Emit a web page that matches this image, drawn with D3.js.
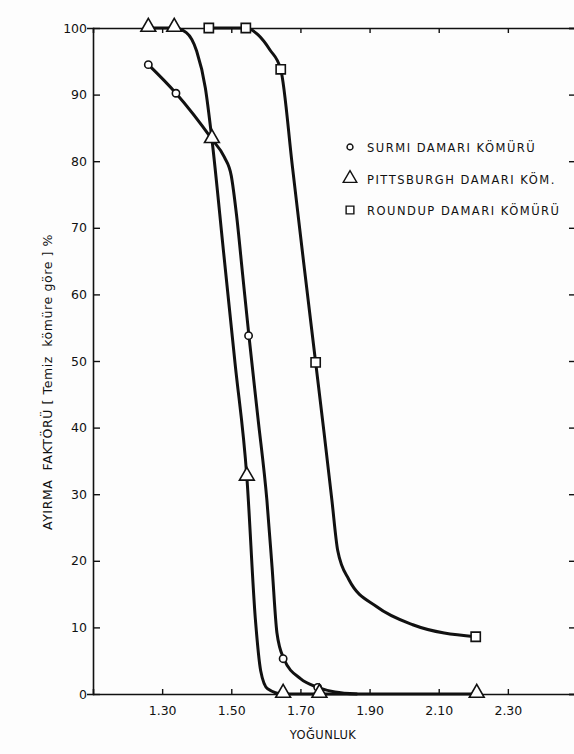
<!DOCTYPE html>
<html>
<head>
<meta charset="utf-8">
<script src="https://cdn.jsdelivr.net/npm/d3@7"></script>
<style>
  html, body { margin: 0; padding: 0; background: #fdfdfd; }
  svg { display: block; font-family: "DejaVu Sans", sans-serif; }
</style>
</head>
<body>
<svg id="chart" width="574" height="754"></svg>
<script>
// Axis ticks
const xTicks = [1.30, 1.50, 1.70, 1.90, 2.10, 2.30];
const yTicks = [0, 10, 20, 30, 40, 50, 60, 70, 80, 90, 100];

// Measured points (markers) per coal seam: [density, separation factor %]
const surmiPoints = [[1.26, 94.5], [1.34, 90.2], [1.55, 53.8], [1.65, 5.3], [1.75, 1.0]];
const pittsburghPoints = [[1.26, 100], [1.335, 100], [1.444, 83.3], [1.545, 32.6], [1.65, 0], [1.755, 0], [2.21, 0]];
const roundupPoints = [[1.435, 100], [1.542, 100], [1.643, 93.8], [1.744, 49.8], [2.207, 8.6]];

// Hand-faired curves through the measured points
const surmiCurve = [[1.26, 94.5], [1.34, 90.2], [1.444, 83.3], [1.480, 80.6], [1.500, 77.8], [1.515, 72],
  [1.533, 62.9], [1.551, 53.8], [1.577, 41.5], [1.603, 29.1], [1.618, 19], [1.632, 9.2], [1.652, 5.3],
  [1.700, 2.3], [1.750, 1.0], [1.800, 0.3], [1.863, 0]];
const pittsburghCurve = [[1.26, 100], [1.335, 100], [1.370, 99.3], [1.400, 96.5], [1.425, 91], [1.444, 83.3],
  [1.478, 66.2], [1.511, 49.6], [1.545, 32.6], [1.570, 11], [1.585, 3.5], [1.605, 0.8], [1.65, 0],
  [1.755, 0], [2.21, 0]];
const roundupCurve = [[1.435, 100], [1.542, 100], [1.577, 99], [1.612, 96.7], [1.643, 93.8], [1.677, 79.1],
  [1.710, 64.5], [1.744, 49.8], [1.768, 39.4], [1.791, 29.1], [1.808, 21.5], [1.840, 17.2], [1.921, 13.1],
  [2.025, 10.4], [2.207, 8.6]];

const legendLabels = ["SURMI DAMARI KÖMÜRÜ", "PITTSBURGH DAMARI KÖM.", "ROUNDUP DAMARI KÖMÜRÜ"];

const svg = d3.select("#chart");
const plot = { left: 93, right: 577, top: 28, bottom: 694 };

const x = d3.scaleLinear().domain([1.10, 2.50]).range([plot.left, plot.right]);
const y = d3.scaleLinear().domain([0, 100]).range([plot.bottom, plot.top]);

const ink = "#111";

// Frame axes with inward ticks
const gx = svg.append("g").attr("transform", `translate(0,${plot.bottom})`)
  .call(d3.axisBottom(x).tickValues(xTicks).tickSize(-5).tickPadding(12).tickFormat(d3.format(".2f")));
const gxTop = svg.append("g").attr("transform", `translate(0,${plot.top})`)
  .call(d3.axisTop(x).tickValues(xTicks).tickSize(-5).tickFormat(""));
const gy = svg.append("g").attr("transform", `translate(${plot.left},0)`)
  .call(d3.axisLeft(y).tickValues(yTicks).tickSize(6).tickPadding(4));
const gyR = svg.append("g").attr("transform", `translate(${plot.right - 2},0)`)
  .call(d3.axisRight(y).tickValues(yTicks).tickSize(-6).tickFormat(""));

[gx, gxTop, gy, gyR].forEach(g => {
  g.select(".domain").attr("stroke", ink).attr("stroke-width", 1.6);
  g.selectAll(".tick line").attr("stroke", ink).attr("stroke-width", 1.4);
  g.selectAll(".tick text").attr("fill", ink).attr("font-size", 12.5).attr("font-family", "DejaVu Sans, sans-serif");
});
gy.selectAll(".tick line").attr("x2", 7).attr("x1", 0);
gy.selectAll(".tick text").attr("x", -6);

// Axis titles
svg.append("text")
  .attr("x", 323).attr("y", 739)
  .attr("font-size", 11.5).attr("fill", ink)
  .attr("text-anchor", "middle")
  .attr("letter-spacing", 0.4)
  .text("YOĞUNLUK");

svg.append("text")
  .attr("transform", "translate(52,382) rotate(-90)")
  .attr("font-size", 12.5).attr("fill", ink)
  .attr("text-anchor", "middle")
  .attr("letter-spacing", 0.6)
  .attr("xml:space", "preserve")
  .text("AYIRMA  FAKTÖRÜ [ Temiz  kömüre göre ] %");

// Curves
const line = d3.line().x(d => x(d[0])).y(d => y(d[1])).curve(d3.curveMonotoneX);
[surmiCurve, pittsburghCurve, roundupCurve].forEach(c => {
  svg.append("path").datum(c)
    .attr("d", line)
    .attr("fill", "none")
    .attr("stroke", ink)
    .attr("stroke-width", 3)
    .attr("stroke-linejoin", "round")
    .attr("stroke-linecap", "round");
});

// Marker shapes
const sym = {
  circle: d3.symbol().type(d3.symbolCircle).size(42),
  triangle: d3.symbol().type(d3.symbolTriangle).size(95),
  square: d3.symbol().type(d3.symbolSquare).size(85)
};

function drawMarkers(points, shape, dy) {
  svg.append("g").selectAll("path").data(points).join("path")
    .attr("transform", d => `translate(${x(d[0])},${y(d[1]) + dy})`)
    .attr("d", sym[shape])
    .attr("fill", "#fff")
    .attr("stroke", ink)
    .attr("stroke-width", 1.6);
}
drawMarkers(surmiPoints, "circle", 0);
drawMarkers(pittsburghPoints, "triangle", -1);
drawMarkers(roundupPoints, "square", 0);

// Legend
const legend = svg.append("g").attr("transform", "translate(350,147)");
legendLabels.forEach((label, i) => {
  const row = legend.append("g").attr("transform", `translate(0,${i * 31.5})`);
  row.append("path")
    .attr("d", d3.symbol().type([d3.symbolCircle, d3.symbolTriangle, d3.symbolSquare][i]).size([28, 80, 60][i]))
    .attr("fill", "#fff").attr("stroke", ink).attr("stroke-width", 1.4);
  row.append("text")
    .attr("x", 17).attr("y", 5)
    .attr("font-size", 11.5).attr("fill", ink)
    .attr("letter-spacing", 1.5)
    .text(label);
});
</script>
</body>
</html>
